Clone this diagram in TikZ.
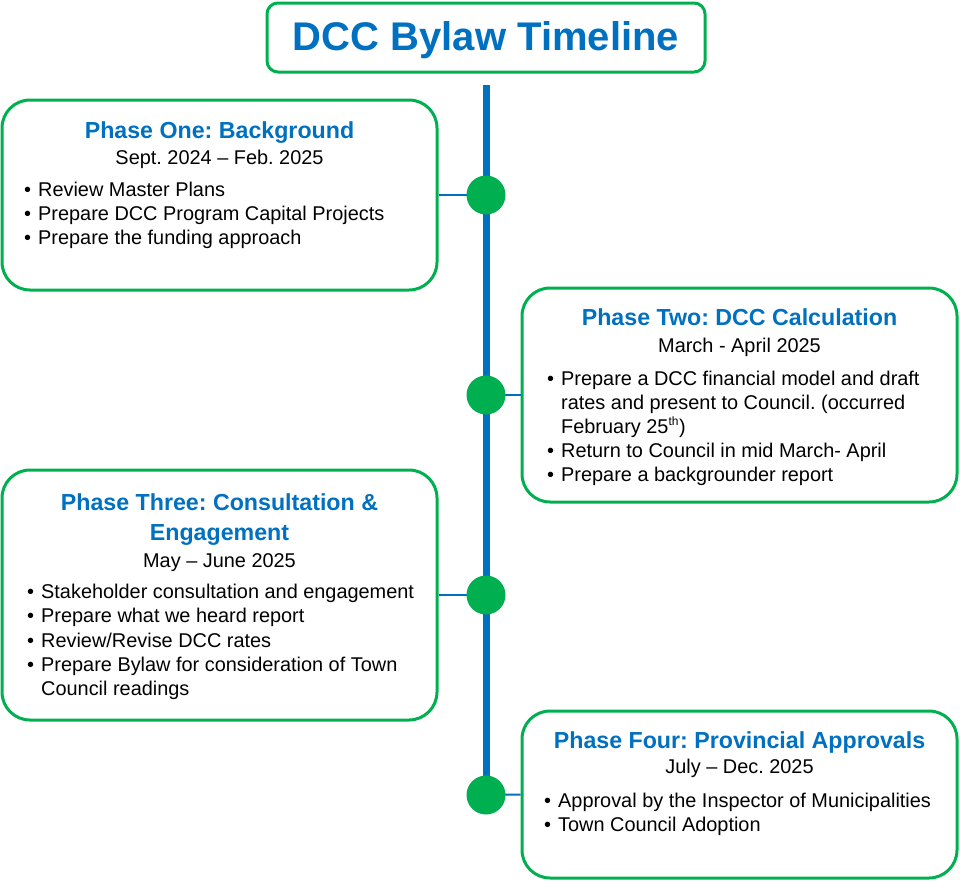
\documentclass[tikz,border=0pt]{standalone}
\usepackage{fontspec}
\setmainfont{Liberation Sans}
\frenchspacing
\definecolor{dccblue}{HTML}{0070C0}
\definecolor{dccgreen}{HTML}{00B050}
\tikzset{
  phasebox/.style={draw=dccgreen, line width=3pt, fill=white, rounded corners=28pt, minimum width=435pt, inner sep=0pt},
  titlebox/.style={draw=dccgreen, line width=3pt, fill=white, rounded corners=11pt, minimum width=438pt, minimum height=69pt, inner sep=0pt},
  titletext/.style={font=\fontsize{40}{44}\selectfont\bfseries, text=dccblue, anchor=base, inner sep=0pt},
  head/.style={font=\fontsize{23.2}{27}\selectfont\bfseries, text=dccblue, anchor=base, inner sep=0pt},
  datetext/.style={font=\fontsize{19.9}{24}\selectfont, anchor=base, inner sep=0pt},
  item/.style={font=\fontsize{19.9}{24}\selectfont, anchor=base west, inner sep=0pt},
  spine/.style={draw=dccblue, line width=7pt},
  link/.style={draw=dccblue, line width=2pt},
  dot/.style={circle, fill=dccgreen, minimum size=39pt, inner sep=0pt}
}
\newcommand{\bul}{\makebox[14pt][l]{•}}
\begin{document}
\begin{tikzpicture}[x=1pt, y=-1pt]
\useasboundingbox (0,0) rectangle (960,881);
% title
\node[titlebox] (title) at (486,37.5) {};
\node[titletext] (titlet) at (486,50) {DCC Bylaw Timeline};
% boxes
\node[phasebox, minimum height=190pt] (b1) at (219.5,195) {};
\node[phasebox, minimum height=214pt] (b2) at (739.5,395) {};
\node[phasebox, minimum height=250pt] (b3) at (219.5,595) {};
\node[phasebox, minimum height=167pt] (b4) at (739.5,794.5) {};
% timeline
\coordinate (top) at (486,85);
\coordinate (p1) at (486,195);
\coordinate (p2) at (486,395);
\coordinate (p3) at (486,595);
\coordinate (p4) at (486,795);
\draw[spine] (top) -- (p4);
\draw[link] (b1.east) -- (p1);
\draw[link] (b2.west) -- (p2);
\draw[link] (b3.east) -- (p3);
\draw[link] (b4.west) -- (p4);
\node[dot] (d1) at (p1) {};
\node[dot] (d2) at (p2) {};
\node[dot] (d3) at (p3) {};
\node[dot] (d4) at (p4) {};
% box 1
\node[head] (h1) at (219.5,138) {Phase One: Background};
\node[datetext] (t1) at (219.5,164) {Sept. 2024 – Feb. 2025};
\node[item] (i11) at (24,196) {\bul Review Master Plans};
\node[item] (i12) at (24,220) {\bul Prepare DCC Program Capital Projects};
\node[item] (i13) at (24,244) {\bul Prepare the funding approach};
% box 2
\node[head] (h2) at (739.5,325) {Phase Two: DCC Calculation};
\node[datetext] (t2) at (739.5,352) {March - April 2025};
\node[item] (i21) at (547,385) {\bul Prepare a DCC financial model and draft};
\node[item] (i21b) at (561,409) {rates and present to Council. (occurred};
\node[item] (i21c) at (561,433) {February 25\textsuperscript{\fontsize{12}{12}\selectfont th})};
\node[item] (i22) at (547,457) {\bul Return to Council in mid March- April};
\node[item] (i23) at (547,481) {\bul Prepare a backgrounder report};
% box 3
\node[head] (h3a) at (219.5,510) {Phase Three: Consultation \&};
\node[head] (h3b) at (219.5,540) {Engagement};
\node[datetext] (t3) at (219.5,567) {May – June 2025};
\node[item] (i31) at (27,598) {\bul Stakeholder consultation and engagement};
\node[item] (i32) at (27,622) {\bul Prepare what we heard report};
\node[item] (i33) at (27,647) {\bul Review/Revise DCC rates};
\node[item] (i34) at (27,671) {\bul Prepare Bylaw for consideration of Town};
\node[item] (i34b) at (41,695) {Council readings};
% box 4
\node[head] (h4) at (739.5,748) {Phase Four: Provincial Approvals};
\node[datetext] (t4) at (739.5,773) {July – Dec. 2025};
\node[item] (i41) at (544,807) {\bul Approval by the Inspector of Municipalities};
\node[item] (i42) at (544,831) {\bul Town Council Adoption};
\end{tikzpicture}
\end{document}
